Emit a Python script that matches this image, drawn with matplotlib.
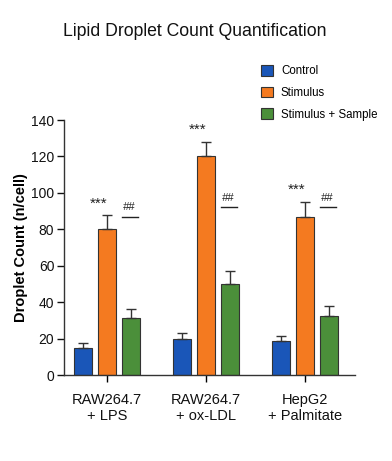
import matplotlib
matplotlib.use("Agg")
import matplotlib.pyplot as plt
import numpy as np

plt.rcParams['font.family'] = ['Liberation Sans', 'DejaVu Sans']

groups = ["RAW264.7\n+ LPS", "RAW264.7\n+ ox-LDL", "HepG2\n+ Palmitate"]
series = ["Control", "Stimulus", "Stimulus + Sample"]
control = [15.0, 19.5, 18.5]
control_err = [2.5, 3.8, 3.0]
stimulus = [80.0, 120.0, 87.0]
stimulus_err = [7.7, 8.0, 8.2]
sample = [31.5, 50.0, 32.5]
sample_err = [4.8, 7.0, 5.3]
star_labels = ["***", "***", "***"]
hash_labels = ["##", "##", "##"]
hash_line_y = [87.0, 92.0, 92.0]
yticks = [0, 20, 40, 60, 80, 100, 120, 140]

colors = ["#1a56b8", "#f47a20", "#4b8f3a"]

fig = plt.figure(figsize=(3.92, 4.61), dpi=100)
ax = fig.add_axes([64/392, 1-375/461, (355-64)/392, (375-120)/461])

x = np.arange(len(groups))
w = 0.18
off = 0.24
vals = [control, stimulus, sample]
errs = [control_err, stimulus_err, sample_err]
for i, (v, e, c, name) in enumerate(zip(vals, errs, colors, series)):
    ax.bar(x + (i-1)*off, v, w, color=c, edgecolor="#333333", linewidth=0.8, label=name,
           yerr=[np.zeros(len(e)), e], error_kw=dict(ecolor="#333333", elinewidth=1.0, capsize=3.5, capthick=1.0),
           zorder=2)

for j in range(len(groups)):
    top = stimulus[j] + stimulus_err[j]
    ax.text(x[j] - 0.09, top + 6.5, star_labels[j], ha="center", va="center", fontsize=11, color="#222222")
    gx = x[j] + off
    ax.plot([gx - 0.09, gx + 0.075], [hash_line_y[j]]*2, color="#222222", lw=1.0)
    ax.text(gx - 0.02, hash_line_y[j] + 2.5, hash_labels[j], ha="center", va="bottom", fontsize=8, style="italic", color="#222222")

ax.set_xlim(-0.435, 2.505)
ax.set_ylim(0, 140)
ax.set_yticks(yticks)
ax.set_xticks(x)
ax.set_xticklabels(groups, fontsize=10.5, color="#111111")
ax.tick_params(axis="y", labelsize=10, length=5, width=1, colors="#111111", pad=2)
ax.tick_params(axis="x", length=5, width=1, pad=8)
for s in ["top", "right"]:
    ax.spines[s].set_visible(False)
for s in ["left", "bottom"]:
    ax.spines[s].set_linewidth(1.0)
    ax.spines[s].set_color("#333333")
ax.set_ylabel("Droplet Count (n/cell)", fontsize=10.5, fontweight="bold", labelpad=2)

fig.text(195/392, 1-31/461, "Lipid Droplet Count Quantification", ha="center", va="center", fontsize=12.7, color="#111111")

leg = fig.legend(loc="upper left", bbox_to_anchor=(251/392, 1-55/461), frameon=False, fontsize=8.3,
                 handlelength=1.0, handleheight=1.0, handletextpad=0.7, labelspacing=0.82)
fig.savefig("out.png", dpi=100, facecolor="white")
